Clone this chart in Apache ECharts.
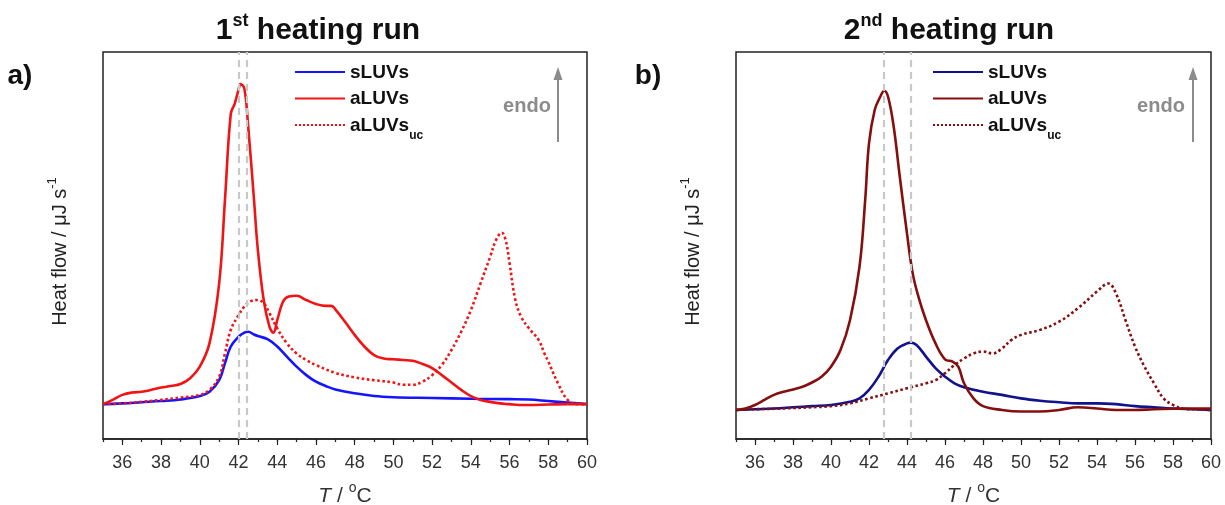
<!DOCTYPE html>
<html>
<head>
<meta charset="utf-8">
<script src="https://cdn.jsdelivr.net/npm/echarts@6/dist/echarts.min.js"></script>
<style>
html,body{margin:0;padding:0;background:#fff;}
#chart{width:1225px;height:505px;}
</style>
</head>
<body>
<div id="chart"></div>
<script>
// ---------- DATA ----------
const xTickLabels = ['35','36','37','38','39','40','41','42','43','44','45','46','47','48','49','50','51','52','53','54','55','56','57','58','59','60'];

// Panel a) 1st heating run
const a_sLUVs_T = [35,36,37,38,39,40,40.5,41,41.3,41.6,42,42.3,42.5,42.8,43,43.5,44,44.5,45,45.5,46,46.5,47,48,49,50,52,54,56,57,58,59,60];
const a_sLUVs_V = [9.0,9.2,9.5,9.8,10.2,11.1,12.2,15.2,19.6,23.9,26.4,27.5,27.7,27.0,26.6,25.8,23.9,21.3,18.7,16.5,14.8,13.7,12.8,11.8,11.1,10.8,10.6,10.4,10.3,10.2,9.8,9.4,9.0];

const a_aLUVs_T = [35,35.5,36,36.5,37,37.5,38,38.5,39,39.5,40,40.5,41,41.3,41.6,41.8,42,42.1,42.3,42.5,42.8,43,43.3,43.6,43.8,44,44.3,44.6,45,45.5,46,46.5,46.8,47,47.5,48,48.5,49,49.5,50,50.5,51,51.5,52,52.5,53,53.5,54,54.5,55,55.5,56,56.5,57,58,59,60];
const a_aLUVs_V = [9.0,10.1,11.4,12.0,12.2,12.7,13.3,13.7,14.2,15.7,18.7,24.7,40.2,61.8,84.0,86.6,90.2,91.7,90.6,80.7,61.8,48.8,35.9,29.0,27.5,30.7,35.5,36.8,37.0,35.9,34.9,34.4,34.4,33.5,30.3,26.9,23.9,21.7,20.8,20.6,20.4,20.2,19.4,18.3,16.5,14.6,12.7,11.1,10.1,9.6,9.2,9.0,8.8,8.8,8.9,9.0,9.0];

const a_aLUVsUC_T = [35,36,37,38,39,40,40.5,41,41.3,41.6,42,42.3,42.6,43,43.3,43.6,44,44.5,45,45.5,46,47,48,49,50,50.5,51,51.5,52,52.5,53,53.5,54,54.5,55,55.3,55.6,55.8,56,56.3,56.6,57,57.5,57.8,58,58.5,59,59.5,60];
const a_aLUVsUC_V = [9.0,9.2,9.6,10.1,10.7,11.4,12.7,16.1,22.1,28.2,32.0,34.2,35.5,35.9,35.1,32.5,28.6,24.7,22.1,20.4,19.1,17.1,15.9,15.2,14.6,14.0,14.0,14.8,16.5,19.1,23.0,27.7,33.3,40.2,47.1,51.4,53.3,51.4,45.4,35.9,31.6,28.6,25.6,22.1,20.0,14.4,10.1,9.0,9.0];

const a_refLines = [42.0, 42.45];

// Panel b) 2nd heating run
const b_sLUVs_T = [35,36,37,38,39,40,41,41.5,42,42.5,43,43.5,44,44.2,44.5,45,45.5,46,46.5,47,48,49,50,51,52,53,54,55,56,57,58,59,60];
const b_sLUVs_V = [7.5,7.7,7.9,8.2,8.5,8.8,9.6,10.5,12.7,16.1,20.4,23.4,24.7,24.9,24.3,21.3,18.3,16.1,14.4,13.4,12.2,11.4,10.5,9.9,9.5,9.2,9.2,9.0,8.5,8.2,7.9,7.7,7.5];

const b_aLUVs_T = [35,35.5,36,36.5,37,37.5,38,38.5,39,39.5,40,40.5,41,41.5,41.8,42,42.3,42.6,42.8,43,43.3,43.6,44,44.3,44.6,45,45.5,46,46.4,46.7,47,47.5,48,49,50,51,52,53,54,55,56,57,58,60];
const b_aLUVs_V = [7.5,7.9,8.8,10.1,11.4,12.2,12.8,13.5,14.6,16.1,18.7,23.0,30.7,44.5,61.8,76.4,85.0,88.5,90.0,88.5,80.7,68.6,53.1,42.8,36.8,30.7,24.7,20.6,20.0,18.7,14.4,10.5,8.5,7.5,7.1,7.1,7.5,8.2,7.9,7.5,7.5,7.7,7.8,7.9];

const b_aLUVsUC_T = [35,36,37,38,39,40,41,42,43,44,45,45.5,46,46.5,47,47.5,48,48.5,49,49.5,50,51,52,53,54,54.6,55,55.5,56,56.5,57,57.5,58,58.5,59,60];
const b_aLUVsUC_V = [7.5,7.7,7.8,8.0,8.2,8.5,9.2,10.5,11.8,13.1,14.4,15.2,17.0,19.1,20.8,22.1,22.6,22.1,23.4,25.6,26.9,28.2,30.3,33.8,38.1,40.2,37.6,30.7,23.9,18.7,14.4,10.5,8.8,7.9,7.7,7.5];

const b_refLines = [42.8, 44.2];

// ---------- BUILD ----------
const zip = (t, v) => t.map((x, i) => [x, v[i]]);
const FONT = 'Liberation Sans, Arial, sans-serif';

const gA = {left:103, top:52, width:484, height:387};
const gB = {left:736, top:52, width:475, height:387};

function grids(g){ return [
  Object.assign({show:true, borderColor:'#222', borderWidth:1.5, backgroundColor:'transparent', containLabel:false, outerBoundsMode:'none'}, g),
  Object.assign({show:false, containLabel:false, outerBoundsMode:'none'}, g)]; }

function xAxes(gi){
  return [
    {gridIndex:gi, type:'value', min:35, max:60, interval:1,
     axisLine:{show:true, lineStyle:{color:'#222', width:1.5}},
     axisTick:{show:true, length:3, lineStyle:{color:'#222', width:1.2}},
     axisLabel:{show:false}, splitLine:{show:false},
     name:'{i|T}{n| / }{sup|o}{n|C}', nameLocation:'middle', nameGap:42,
     nameTextStyle:{fontFamily:FONT, color:'#333',
       rich:{i:{fontSize:21, fontStyle:'italic', fontFamily:FONT, color:'#333', verticalAlign:'bottom', lineHeight:26},
             n:{fontSize:21, fontFamily:FONT, color:'#333', verticalAlign:'bottom', lineHeight:26},
             sup:{fontSize:14, fontFamily:FONT, color:'#333', verticalAlign:'top', lineHeight:26}}}},
    {gridIndex:gi+1, type:'category', data:xTickLabels, boundaryGap:false,
     axisLine:{show:false},
     axisTick:{show:true, length:6, interval:(i)=> i%2===1, lineStyle:{color:'#222', width:1.2}},
     axisLabel:{show:true, interval:(i)=> i%2===1, fontSize:18, color:'#333', fontFamily:FONT, margin:15},
     splitLine:{show:false}}
  ];
}
function yAxes(gi){
  return [
    {gridIndex:gi, type:'value', min:0, max:100, axisLine:{show:false}, axisTick:{show:false}, axisLabel:{show:false}, splitLine:{show:false},
     name:'{n|Heat flow / μJ s}{sup|-1}', nameLocation:'middle', nameGap:33, nameRotate:90,
     nameTextStyle:{fontFamily:FONT, padding:[0,12,0,0],
       rich:{n:{fontSize:20, fontFamily:FONT, color:'#222', verticalAlign:'bottom', lineHeight:24},
             sup:{fontSize:13, fontFamily:FONT, color:'#222', verticalAlign:'top', lineHeight:24}}}},
    {gridIndex:gi+1, type:'value', min:0, max:100, show:false}
  ];
}

function line(name, xi, t, v, color, dotted, refs){
  const s = {name, type:'line', xAxisIndex:xi, yAxisIndex:xi, data:zip(t,v), showSymbol:false, symbol:'none',
    smooth:0.4, lineStyle:{color, width:2.6, type: dotted ? 'dotted':'solid'}, itemStyle:{color}, z:3};
  if (refs) {
    s.markLine = {silent:true, symbol:['none','none'], label:{show:false},
      lineStyle:{type:[7,5], color:'#c8c8c8', width:2.2}, data: refs.map(x=>({xAxis:x})), animation:false};
  }
  return s;
}

const legendRich = {b:{fontSize:19, fontWeight:'bold', color:'#111', fontFamily:FONT, verticalAlign:'bottom', lineHeight:20},
                    sub:{fontSize:12, fontWeight:'bold', color:'#111', fontFamily:FONT, verticalAlign:'bottom', lineHeight:20, padding:[0,0,-7,0]}};
function legendFmt(name){
  const n = name.replace(' (b)','');
  if (n === 'aLUVs_uc') return '{b|aLUVs}{sub|uc}';
  return '{b|' + n + '}';
}
const legendCommon = {top:58, orient:'vertical', itemWidth:50, itemHeight:14, itemGap:7.5,
  formatter:legendFmt, selectedMode:false, textStyle:{rich:legendRich}, itemStyle:{opacity:0}};

const option = {
  animation:false,
  backgroundColor:'#fff',
  grid:[...grids(gA), ...grids(gB)],
  xAxis:[...xAxes(0), ...xAxes(2)],
  yAxis:[...yAxes(0), ...yAxes(2)],
  legend:[
    Object.assign({data:['sLUVs','aLUVs','aLUVs_uc'], left:289}, legendCommon),
    Object.assign({data:['sLUVs (b)','aLUVs (b)','aLUVs_uc (b)'], left:927}, legendCommon)
  ],
  series:[
    line('sLUVs', 0, a_sLUVs_T, a_sLUVs_V, '#1414ff', false),
    line('aLUVs', 0, a_aLUVs_T, a_aLUVs_V, '#f01414', false),
    line('aLUVs_uc', 0, a_aLUVsUC_T, a_aLUVsUC_V, '#f01414', true, a_refLines),
    line('sLUVs (b)', 2, b_sLUVs_T, b_sLUVs_V, '#12128c', false),
    line('aLUVs (b)', 2, b_aLUVs_T, b_aLUVs_V, '#850f0f', false),
    line('aLUVs_uc (b)', 2, b_aLUVsUC_T, b_aLUVsUC_V, '#850f0f', true, b_refLines)
  ],
  graphic:[
    {type:'text', x:318, y:29, style:{text:'{b|1}{s|st}{b| heating run}', align:'center', verticalAlign:'middle',
      rich:{b:{fontSize:30, fontWeight:'bold', fill:'#111', fontFamily:FONT, verticalAlign:'bottom', lineHeight:34},
            s:{fontSize:18, fontWeight:'bold', fill:'#111', fontFamily:FONT, verticalAlign:'top', lineHeight:34}}}},
    {type:'text', x:949, y:29, style:{text:'{b|2}{s|nd}{b| heating run}', align:'center', verticalAlign:'middle',
      rich:{b:{fontSize:30, fontWeight:'bold', fill:'#111', fontFamily:FONT, verticalAlign:'bottom', lineHeight:34},
            s:{fontSize:18, fontWeight:'bold', fill:'#111', fontFamily:FONT, verticalAlign:'top', lineHeight:34}}}},
    {type:'text', x:20, y:76, style:{text:'a)', align:'center', verticalAlign:'middle', fontSize:28, fontWeight:'bold', fill:'#111', fontFamily:FONT}},
    {type:'text', x:648, y:76, style:{text:'b)', align:'center', verticalAlign:'middle', fontSize:28, fontWeight:'bold', fill:'#111', fontFamily:FONT}},
    {type:'text', x:527, y:106, style:{text:'endo', align:'center', verticalAlign:'middle', fontSize:20, fontWeight:'bold', fill:'#8c8c8c', fontFamily:FONT}},
    {type:'text', x:1161, y:106, style:{text:'endo', align:'center', verticalAlign:'middle', fontSize:20, fontWeight:'bold', fill:'#8c8c8c', fontFamily:FONT}},
    {type:'line', shape:{x1:558, y1:142, x2:558, y2:76}, style:{stroke:'#8c8c8c', lineWidth:2}},
    {type:'polygon', shape:{points:[[558,67],[553.5,80],[562.5,80]]}, style:{fill:'#8c8c8c'}},
    {type:'line', shape:{x1:1193, y1:142, x2:1193, y2:76}, style:{stroke:'#8c8c8c', lineWidth:2}},
    {type:'polygon', shape:{points:[[1193,67],[1188.5,80],[1197.5,80]]}, style:{fill:'#8c8c8c'}}
  ]
};

const chart = echarts.init(document.getElementById('chart'), null, {renderer:'canvas'});
chart.setOption(option);
</script>
</body>
</html>
